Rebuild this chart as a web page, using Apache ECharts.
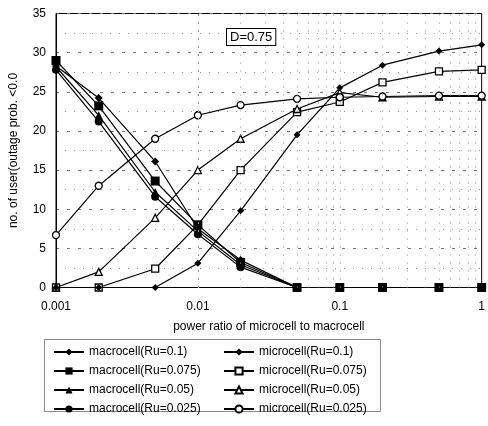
<!DOCTYPE html>
<html><head><meta charset="utf-8">
<script src="https://cdn.jsdelivr.net/npm/echarts@6/dist/echarts.min.js"></script>
<style>html,body{margin:0;padding:0;background:#fff}#c{width:488px;height:426px}</style>
</head><body><div id="c"></div>
<script>
const xValues = [0.001, 0.002, 0.005, 0.01, 0.02, 0.05, 0.1, 0.2, 0.5, 1];
const macro01   = [28.3, 24.2, 16.1, 7.5, 3.5, 0, 0, 0, 0, 0];
const macro0075 = [29.0, 23.2, 13.6, 8.0, 3.2, 0, 0, 0, 0, 0];
const macro005  = [28.2, 22.0, 12.2, 7.2, 2.9, 0, 0, 0, 0, 0];
const macro0025 = [27.8, 21.2, 11.6, 6.8, 2.6, 0, 0, 0, 0, 0];
const micro01   = [0, 0, 0, 3.1, 9.8, 19.5, 25.5, 28.4, 30.2, 31.0];
const micro0075 = [0, 0, 2.4, 8.0, 15.0, 22.4, 23.7, 26.2, 27.6, 27.8];
const micro005  = [0, 2.0, 8.9, 15.0, 19.0, 22.8, 24.9, 24.3, 24.4, 24.4];
const micro0025 = [6.7, 13.0, 19.0, 22.0, 23.3, 24.1, 24.3, 24.4, 24.5, 24.5];
const xTickLabels = ['0.001', '0.01', '0.1', '1'];
const xGridValues = [];
[0.001, 0.01, 0.1].forEach(d => { for (let k = 1; k <= 9; k++) { if (!(k === 1 && d === 0.001)) xGridValues.push(+(d * k).toPrecision(3)); } });

const FONT = '"Liberation Sans", Arial, sans-serif';
const pairs = a => xValues.map((x, i) => [x, a[i]]);

function mk(name, data, symbol, size, hollow, z) {
  return {
    name, type: 'line', data: pairs(data), symbol, symbolSize: size,
    showAllSymbol: true,
    lineStyle: { color: '#000', width: 1.2 },
    itemStyle: { color: hollow ? '#fff' : '#000', borderColor: '#000', borderWidth: hollow ? 1.3 : 0 },
    emphasis: { disabled: true }, animation: false, z
  };
}
const series = [
  mk('macrocell(Ru=0.1)', macro01, 'diamond', 8, false, 4),
  mk('macrocell(Ru=0.075)', macro0075, 'rect', 9, false, 4),
  mk('macrocell(Ru=0.05)', macro005, 'triangle', 8, false, 4),
  mk('macrocell(Ru=0.025)', macro0025, 'circle', 8, false, 4),
  mk('microcell(Ru=0.1)', micro01, 'diamond', 7, false, 5),
  mk('microcell(Ru=0.075)', micro0075, 'rect', 7, true, 3),
  mk('microcell(Ru=0.05)', micro005, 'triangle', 7, true, 3),
  mk('microcell(Ru=0.025)', micro0025, 'circle', 7, true, 3)
];
series[0].markLine = {
  silent: true, symbol: 'none', label: { show: false },
  lineStyle: { color: '#999', type: [1, 7], width: 1 },
  data: xGridValues.map(v => ({ xAxis: v }))
};

const chart = echarts.init(document.getElementById('c'));
chart.setOption({
  animation: false,
  backgroundColor: '#fff',
  textStyle: { fontFamily: FONT },
  grid: { left: 52, right: 1, top: 13.5, bottom: 138.5, show: true, borderColor: '#000', borderWidth: 1 },
  xAxis: {
    type: 'log', logBase: 10, min: 0.001, max: 1,
    name: 'power ratio of microcell to macrocell', nameLocation: 'middle', nameGap: 33,
    nameTextStyle: { fontSize: 12, color: '#000', fontFamily: FONT },
    axisLine: { lineStyle: { color: '#000', width: 1 } },
    axisTick: { show: false },
    splitLine: { show: false },
    axisLabel: { color: '#000', fontSize: 12, margin: 13, fontFamily: FONT,
      formatter: v => { const s = xTickLabels.find(t => Math.abs(+t - v) < v * 1e-6); return s || ''; } }
  },
  yAxis: {
    type: 'value', min: 0, max: 35, interval: 5,
    name: 'no. of user(outage prob. <0.0', nameLocation: 'middle', nameGap: 36,
    nameTextStyle: { fontSize: 12, color: '#000', fontFamily: FONT },
    axisLine: { show: true, lineStyle: { color: '#000', width: 1 } },
    axisTick: { show: false },
    axisLabel: { color: '#000', fontSize: 12, margin: 10, fontFamily: FONT },
    splitLine: { show: true, lineStyle: { color: '#777', type: [3, 8], width: 1 } },
    minorTick: { show: false, splitNumber: 2 },
    minorSplitLine: { show: true, lineStyle: { color: '#999', type: [1, 8], width: 1 } }
  },
  legend: [
    { orient: 'vertical', left: 48, top: 341, itemWidth: 30, itemHeight: 9, itemGap: 7,
      textStyle: { fontSize: 12, color: '#000', fontFamily: FONT },
      data: series.slice(0, 4).map(s => s.name) },
    { orient: 'vertical', left: 218, top: 341, itemWidth: 30, itemHeight: 9, itemGap: 7,
      textStyle: { fontSize: 12, color: '#000', fontFamily: FONT },
      data: series.slice(4).map(s => s.name) }
  ],
  graphic: [
    { type: 'rect', left: 42, top: 337, shape: { width: 336, height: 72 },
      style: { fill: 'none', stroke: '#888', lineWidth: 1 }, silent: true },
    { type: 'text', left: 226, top: 28, z: 10,
      style: { text: 'D=0.75', fontSize: 13, fill: '#000', fontFamily: FONT,
        backgroundColor: '#fff', borderColor: '#000', borderWidth: 1, padding: [2, 3, 1, 3] } }
  ],
  series
});
</script></body></html>
